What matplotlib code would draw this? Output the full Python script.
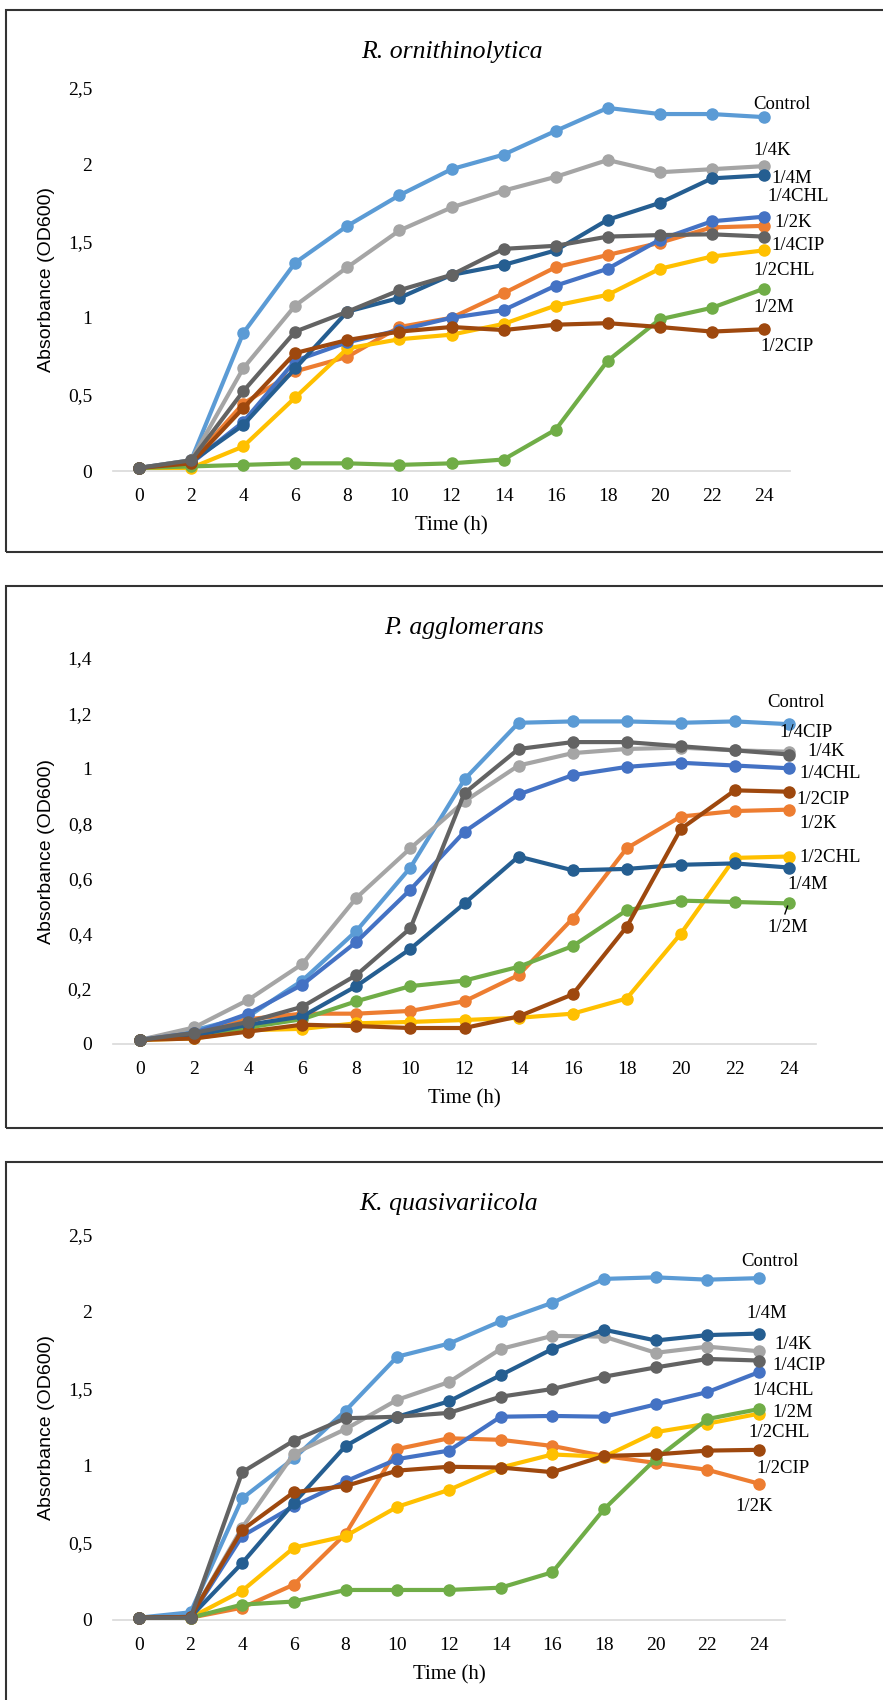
"""
Growth curves (OD600) of three strains under sub-MIC antibiotic treatments.
"""

import matplotlib
matplotlib.use("Agg")
import matplotlib.pyplot as plt
from matplotlib.patches import Rectangle

W, H = 883, 1700

# -- data --

HOURS = [0, 2, 4, 6, 8, 10, 12, 14, 16, 18, 20, 22, 24]

SERIES = ["Control", "1/2K", "1/4K", "1/2CHL", "1/4CHL",
          "1/2M", "1/4M", "1/2CIP", "1/4CIP"]

COLORS = ["#5B9BD5", "#ED7D31", "#A5A5A5", "#FFC000", "#4472C4",
          "#70AD47", "#255E91", "#9E480E", "#636363"]

R_ORN = [
    [0.02, 0.07, 0.90, 1.36, 1.60, 1.80, 1.97, 2.065, 2.22, 2.37, 2.33, 2.33, 2.31],
    [0.02, 0.06, 0.44, 0.65, 0.745, 0.94, 1.00, 1.16, 1.33, 1.41, 1.49, 1.59, 1.60],
    [0.02, 0.07, 0.67, 1.08, 1.33, 1.57, 1.72, 1.83, 1.92, 2.03, 1.95, 1.97, 1.99],
    [0.02, 0.02, 0.16, 0.48, 0.80, 0.86, 0.89, 0.96, 1.08, 1.15, 1.32, 1.40, 1.44],
    [0.02, 0.05, 0.32, 0.72, 0.84, 0.92, 1.00, 1.05, 1.21, 1.32, 1.51, 1.63, 1.66],
    [0.02, 0.03, 0.04, 0.05, 0.05, 0.04, 0.05, 0.075, 0.27, 0.72, 0.99, 1.065, 1.19],
    [0.02, 0.06, 0.30, 0.67, 1.04, 1.13, 1.28, 1.345, 1.44, 1.64, 1.75, 1.91, 1.93],
    [0.02, 0.05, 0.41, 0.77, 0.855, 0.91, 0.94, 0.92, 0.955, 0.965, 0.94, 0.91, 0.925],
    [0.02, 0.07, 0.52, 0.91, 1.04, 1.18, 1.28, 1.45, 1.47, 1.53, 1.54, 1.545, 1.53],
]

P_AGG = [
    [0.015, 0.05, 0.10, 0.23, 0.41, 0.64, 0.96, 1.165, 1.17, 1.17, 1.165, 1.17, 1.16],
    [0.015, 0.03, 0.09, 0.11, 0.11, 0.12, 0.155, 0.25, 0.455, 0.71, 0.825, 0.845, 0.85],
    [0.015, 0.06, 0.16, 0.29, 0.53, 0.71, 0.88, 1.01, 1.055, 1.07, 1.075, 1.065, 1.06],
    [0.015, 0.02, 0.05, 0.055, 0.075, 0.08, 0.087, 0.095, 0.11, 0.165, 0.40, 0.675, 0.68],
    [0.015, 0.04, 0.11, 0.215, 0.37, 0.56, 0.77, 0.905, 0.975, 1.005, 1.02, 1.01, 1.00],
    [0.015, 0.03, 0.06, 0.09, 0.155, 0.21, 0.23, 0.28, 0.355, 0.485, 0.52, 0.515, 0.51],
    [0.015, 0.03, 0.07, 0.10, 0.21, 0.345, 0.51, 0.68, 0.63, 0.635, 0.65, 0.655, 0.64],
    [0.015, 0.02, 0.045, 0.07, 0.065, 0.058, 0.058, 0.10, 0.18, 0.425, 0.78, 0.92, 0.915],
    [0.015, 0.04, 0.08, 0.135, 0.25, 0.42, 0.91, 1.07, 1.095, 1.095, 1.08, 1.065, 1.05],
]

K_QUA = [
    [0.015, 0.05, 0.79, 1.05, 1.36, 1.71, 1.795, 1.94, 2.06, 2.215, 2.225, 2.21, 2.22],
    [0.015, 0.015, 0.08, 0.23, 0.56, 1.11, 1.18, 1.17, 1.13, 1.065, 1.02, 0.975, 0.885],
    [0.015, 0.02, 0.60, 1.08, 1.24, 1.43, 1.545, 1.76, 1.845, 1.84, 1.735, 1.775, 1.745],
    [0.015, 0.015, 0.19, 0.47, 0.545, 0.735, 0.845, 0.99, 1.075, 1.06, 1.22, 1.275, 1.34],
    [0.015, 0.02, 0.545, 0.74, 0.90, 1.045, 1.10, 1.32, 1.325, 1.32, 1.40, 1.48, 1.61],
    [0.015, 0.015, 0.10, 0.12, 0.195, 0.195, 0.195, 0.21, 0.31, 0.72, 1.045, 1.305, 1.37],
    [0.015, 0.02, 0.37, 0.76, 1.13, 1.32, 1.42, 1.59, 1.76, 1.885, 1.815, 1.85, 1.86],
    [0.015, 0.02, 0.585, 0.83, 0.87, 0.97, 0.995, 0.99, 0.96, 1.065, 1.075, 1.10, 1.105],
    [0.015, 0.015, 0.96, 1.165, 1.31, 1.32, 1.345, 1.45, 1.50, 1.58, 1.64, 1.695, 1.685],
]

# -- layout (pixels) --

# label text, x (hours), y (OD) -- placement of the curve tags
R_TAGS = [("Control", 23.58, 2.39), ("1/4K", 23.58, 2.09), ("1/4M", 24.3, 1.91),
          ("1/4CHL", 24.15, 1.79), ("1/2K", 24.4, 1.625), ("1/4CIP", 24.3, 1.47),
          ("1/2CHL", 23.58, 1.31), ("1/2M", 23.6, 1.07), ("1/2CIP", 23.85, 0.815)]
P_TAGS = [("Control", 23.2, 1.237), ("1/4CIP", 23.65, 1.128), ("1/4K", 24.67, 1.06),
          ("1/4CHL", 24.4, 0.98), ("1/2CIP", 24.27, 0.885), ("1/2K", 24.4, 0.80),
          ("1/2CHL", 24.4, 0.678), ("1/4M", 23.93, 0.58), ("1/2M", 23.2, 0.424)]
K_TAGS = [("Control", 23.3, 2.325), ("1/4M", 23.5, 1.99), ("1/4K", 24.6, 1.79),
          ("1/4CIP", 24.5, 1.65), ("1/4CHL", 23.75, 1.49), ("1/2M", 24.5, 1.35),
          ("1/2CHL", 23.6, 1.22), ("1/2CIP", 23.9, 0.985), ("1/2K", 23.1, 0.74)]

PANELS = [
    # title, data, tags, ymax, ystep, axes box (l, t, r, b), frame (top, bottom)
    ("R. ornithinolytica", R_ORN, R_TAGS, 2.5, 0.5, (113, 88, 790, 471), (10, 552)),
    ("P. agglomerans", P_AGG, P_TAGS, 1.4, 0.2, (113, 658, 816, 1044), (586, 1128)),
    ("K. quasivariicola", K_QUA, K_TAGS, 2.5, 0.5, (113, 1235, 785, 1620), (1162, 1712)),
]

SERIF = "Liberation Serif"
SANS = "Liberation Sans"


def _fmt(v):
    s = f"{v:.1f}".rstrip("0").rstrip(".")
    return s.replace(".", ",")


def _draw_panel(fig, title, data, tags, ymax, ystep, box, frame):
    l, t, r, b = box
    ax = fig.add_axes([l / W, 1 - b / H, (r - l) / W, (b - t) / H])

    for name, color, vals in zip(SERIES, COLORS, data):
        ax.plot(HOURS, vals, color=color, lw=3.0, marker="o", ms=8,
                solid_capstyle="round", label=name, clip_on=False)

    ax.set_xlim(-1, 25)
    ax.set_ylim(0, ymax)
    n = int(round(ymax / ystep))
    yt = [i * ystep for i in range(n + 1)]
    ax.set_yticks(yt)
    ax.set_yticklabels([_fmt(v) for v in yt], fontfamily=SERIF, fontsize=14)
    ax.set_xticks(HOURS)
    ax.set_xticklabels([str(h) for h in HOURS], fontfamily=SERIF, fontsize=14)
    ax.tick_params(length=0, pad=12)
    ax.tick_params(axis="y", pad=15)

    for side in ("top", "right", "left"):
        ax.spines[side].set_visible(False)
    ax.spines["bottom"].set_color("#D9D9D9")
    ax.spines["bottom"].set_linewidth(1.2)
    ax.spines["bottom"].set_zorder(0)

    ax.set_xlabel("Time (h)", fontfamily=SERIF, fontsize=15, labelpad=8)
    ax.set_ylabel("Absorbance (OD600)", fontfamily=SANS, fontsize=14, labelpad=9)
    ax.set_title(title, fontfamily=SERIF, fontsize=18.5, style="italic",
                 pad=(t - frame[0] - 33) * 0.72 - 11)

    for text, x, y in tags:
        ax.text(x, y, text, fontfamily=SERIF, fontsize=13.5, ha="left",
                va="center", clip_on=False)

    # frame around the panel (right side runs off the page)
    ft, fb = frame
    fig.add_artist(Rectangle((6 / W, 1 - fb / H), 900 / W, (fb - ft) / H,
                             transform=fig.transFigure, fill=False,
                             lw=1.5, ec="#333333"))
    return ax


fig = plt.figure(figsize=(W / 100, H / 100), dpi=100)
fig.patch.set_facecolor("white")

axes = []
for title, data, tags, ymax, ystep, box, frame in PANELS:
    axes.append(_draw_panel(fig, title, data, tags, ymax, ystep, box, frame))

# small leader tick under the 1/2M end point in P. agglomerans
axes[1].plot([23.95, 23.85], [0.50, 0.472], color="black", lw=1.0, clip_on=False)

fig.savefig("out.png", dpi=100)
